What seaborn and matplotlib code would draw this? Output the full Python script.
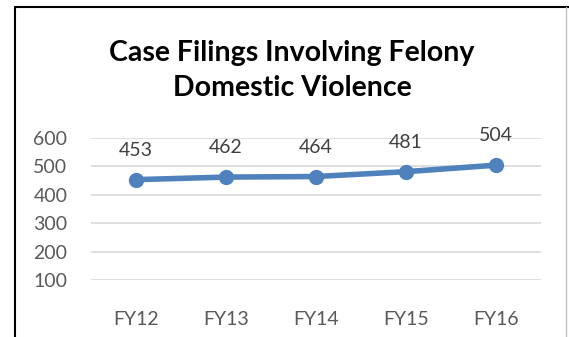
import matplotlib
matplotlib.use("Agg")
import matplotlib.pyplot as plt
from matplotlib.lines import Line2D
import seaborn as sns
import pandas as pd

years = ["FY12", "FY13", "FY14", "FY15", "FY16"]
filings = [453, 462, 464, 481, 504]
y_ticks = [100, 200, 300, 400, 500, 600]

sns.set_theme(style="white")
plt.rcParams["font.family"] = ["Lato", "DejaVu Sans"]

df = pd.DataFrame({"year": years, "filings": filings})

fig = plt.figure(figsize=(5.69, 3.37), dpi=100)
ax = fig.add_axes([0.160, 0.169, 0.791, 0.422])

line_color = "#4F81BD"
sns.lineplot(data=df, x="year", y="filings", ax=ax, color=line_color,
             linewidth=4.0, marker="o", markersize=11, markeredgewidth=0,
             sort=False)

for i, v in enumerate(filings):
    ax.annotate(str(v), (i, v), xytext=(0, 15), textcoords="offset points",
                ha="center", va="bottom", fontsize=14, color="#404040")

ax.set_xlim(-0.5, len(years) - 0.5)
ax.set_ylim(100, 600)
ax.set_yticks(y_ticks)
ax.set_yticklabels([str(t) for t in y_ticks])
ax.grid(axis="y", color="#D9D9D9", linewidth=1.2)
ax.set_axisbelow(True)
for s in ax.spines.values():
    s.set_visible(False)
ax.tick_params(axis="both", length=0, labelsize=14, labelcolor="#595959")
ax.tick_params(axis="y", pad=17)
ax.tick_params(axis="x", pad=22)
ax.set_xlabel("")
ax.set_ylabel("")

fig.text(0.513, 0.79, "Case Filings Involving Felony\nDomestic Violence",
         ha="center", va="center", fontsize=20.5, fontweight="bold",
         color="black", linespacing=1.45)

# chart frame
W, H = 569, 337
fig.add_artist(Line2D([15 / W, 1.0], [1 - 7 / H, 1 - 7 / H], color="black", linewidth=1.5, transform=fig.transFigure))
fig.add_artist(Line2D([15 / W, 15 / W], [0, 1 - 7 / H], color="black", linewidth=1.5, transform=fig.transFigure))
fig.add_artist(Line2D([566 / W, 566 / W], [0, 1 - 7 / H], color="#BFBFBF", linewidth=1.0, transform=fig.transFigure))

fig.savefig("out.png", dpi=100, facecolor="white")
